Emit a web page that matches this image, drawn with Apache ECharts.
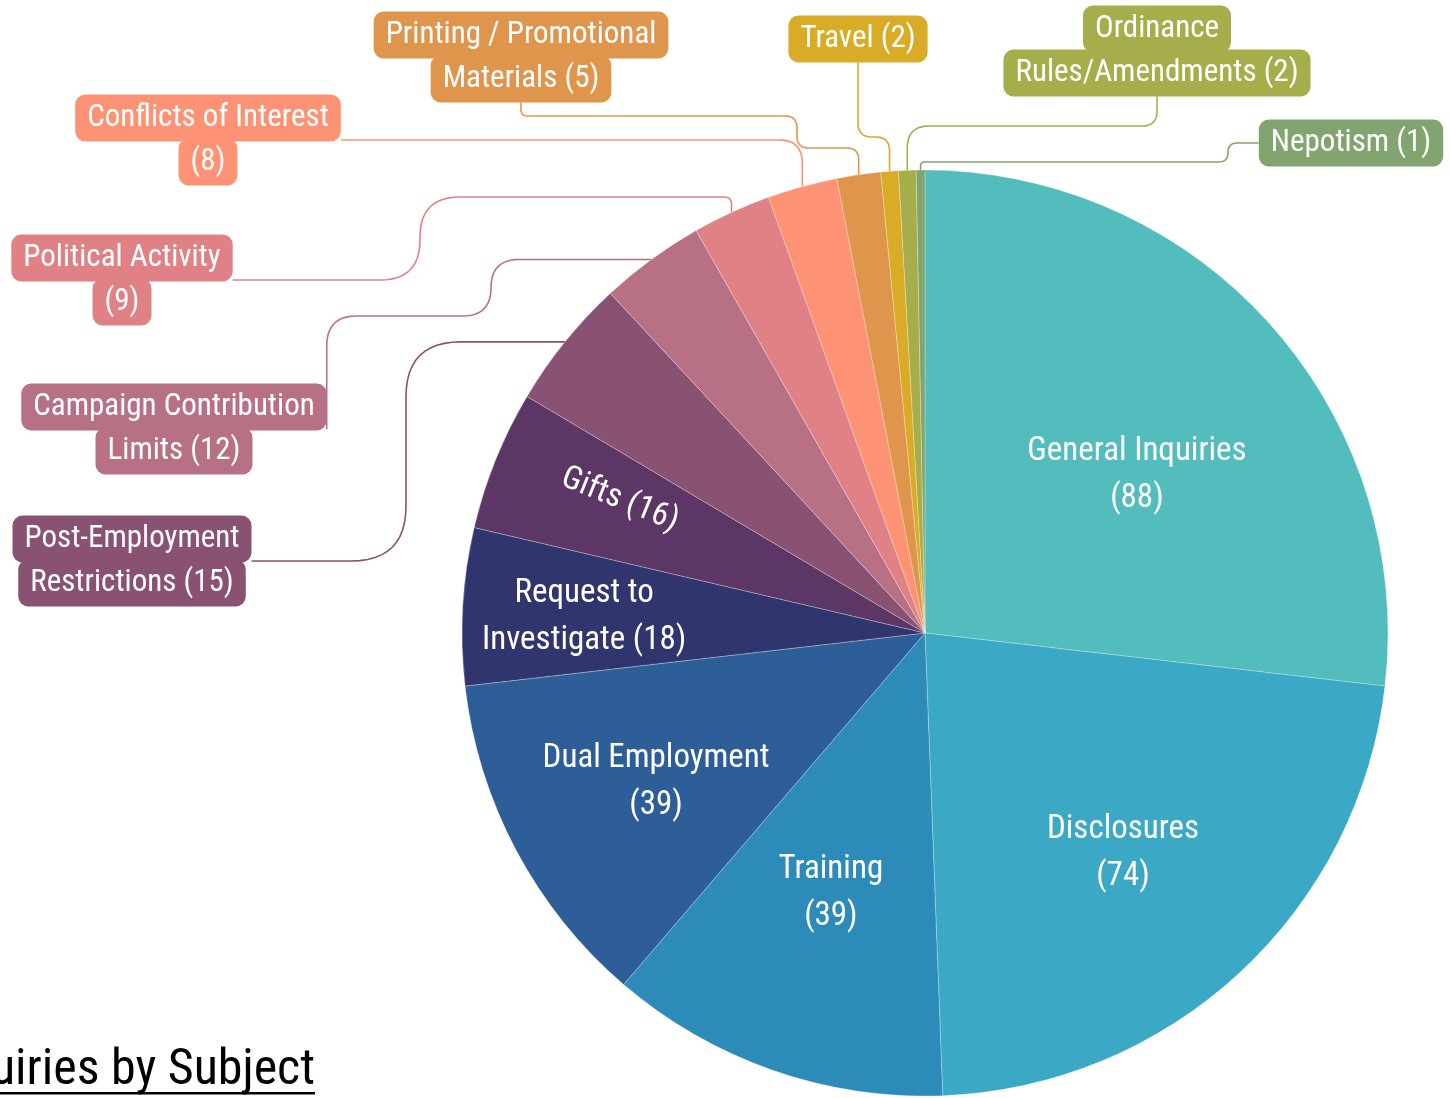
<!DOCTYPE html>
<html lang="en">
<head>
<meta charset="UTF-8">
<title>Inquiries by Subject</title>
<style>
  html, body { margin: 0; padding: 0; background: #fff; overflow: hidden; }
  #chart { width: 1450px; height: 1098px; }
</style>
<script src="https://cdn.jsdelivr.net/npm/echarts@6/dist/echarts.min.js"></script>
</head>
<body>
<div id="chart"></div>
<script>
// data
const subjects = ['General Inquiries', 'Disclosures', 'Training', 'Dual Employment', 'Request to Investigate',
  'Gifts', 'Post-Employment Restrictions', 'Campaign Contribution Limits', 'Political Activity',
  'Conflicts of Interest', 'Printing / Promotional Materials', 'Travel', 'Ordinance Rules/Amendments', 'Nepotism'];
const counts = [88, 74, 39, 39, 18, 16, 15, 12, 9, 8, 5, 2, 2, 1];
// how each label is wrapped (count is appended)
const labelText = ['General Inquiries\n', 'Disclosures\n', 'Training\n', 'Dual Employment\n', 'Request to\nInvestigate ',
  'Gifts ', 'Post-Employment\nRestrictions ', 'Campaign Contribution\nLimits ', 'Political Activity\n',
  'Conflicts of Interest\n', 'Printing / Promotional\nMaterials ', 'Travel ', 'Ordinance\nRules/Amendments ', 'Nepotism '];
const colors = ['#53bcbd', '#3ba8c5', '#2d8bba', '#2e5e97', '#31356d', '#5c3766', '#895172', '#b87184',
  '#e08185', '#fe9274', '#e0954d', '#d9ab27', '#a6ae4c', '#82a570'];

const FONT = "'Roboto Condensed', 'Liberation Sans Narrow', 'DejaVu Sans Condensed', Roboto, sans-serif";

// inside labels: [distance from centre as share of radius, angle shift in degrees]
const insidePos = {0: [0.571, -5], 1: [0.639, -0.8], 2: [0.597, -0.7], 3: [0.664, 1], 4: [0.737, 0.6], 5: [0.719, -1.6]};

// outside labels: centre of label box, where the line leaves it, route to the slice
const outside = {
  6: {x: 132, y: 561, from: 'right', r: 55, route: (p, a) => [p, [406, p[1]], [406, a[1]], a]},
  7: {x: 174, y: 429, from: 'right', r: 30, route: (p, a) => [p, [p[0], 316], [491, 316], [491, a[1]], a]},
  8: {x: 122, y: 280, from: 'right', r: 40, route: (p, a) => [p, [420, p[1]], [420, 197], [a[0], 197], a]},
  9: {x: 208, y: 140, from: 'right', r: 25, route: (p, a) => [p, [a[0], p[1]], a]},
  10: {x: 521, y: 57, from: 'bottom', r: 12, route: (p, a) => [p, [p[0], 116], [797, 116], [797, 148], [a[0], 148], a]},
  11: {x: 858, y: 39, from: 'bottom', r: 14, route: (p, a) => [p, [p[0], 137], [a[0], 137], a]},
  12: {x: 1157, y: 51, from: 'bottom', r: 22, route: (p, a) => [p, [p[0], 126], [a[0], 126], a]},
  13: {x: 1351, y: 143, from: 'left', r: 10, route: (p, a) => [p, [1228, p[1]], [1228, 162], [a[0], 162], a]}
};

const CX = 925, CY = 633, R = 463;

function roundPath(pts, r) {
  const out = [pts[0]];
  for (let i = 1; i < pts.length - 1; i++) {
    const p = pts[i], a = pts[i - 1], b = pts[i + 1];
    const la = Math.hypot(a[0] - p[0], a[1] - p[1]);
    const lb = Math.hypot(b[0] - p[0], b[1] - p[1]);
    if (!la || !lb) { out.push(p); continue; }
    const d = Math.min(r, la / 2, lb / 2);
    const s = [p[0] + (a[0] - p[0]) * d / la, p[1] + (a[1] - p[1]) * d / la];
    const e = [p[0] + (b[0] - p[0]) * d / lb, p[1] + (b[1] - p[1]) * d / lb];
    for (let k = 0; k <= 12; k++) {
      const t = k / 12;
      out.push([
        (1 - t) * (1 - t) * s[0] + 2 * (1 - t) * t * p[0] + t * t * e[0],
        (1 - t) * (1 - t) * s[1] + 2 * (1 - t) * t * p[1] + t * t * e[1]
      ]);
    }
  }
  out.push(pts[pts.length - 1]);
  return out;
}

const data = subjects.map((name, i) => {
  const text = labelText[i] + '(' + counts[i] + ')';
  const item = {name: name, value: counts[i], itemStyle: {color: colors[i]}};
  if (outside[i]) {
    item.label = {
      position: 'outside',
      formatter: text.split('\n').map(s => '{b|' + s + '}').join('\n'),
      rich: {
        b: {
          color: '#fff', fontFamily: FONT, fontSize: 31, lineHeight: 44,
          backgroundColor: colors[i], borderRadius: 10, padding: [8, 12]
        }
      }
    };
    item.labelLine = {show: true, smooth: false, lineStyle: {color: colors[i], width: 1.6}};
  } else {
    item.label = {
      position: 'inside',
      formatter: text,
      color: '#fff', fontFamily: FONT, fontSize: 33, lineHeight: 47,
      rotate: i === 5 ? 'radial' : 0
    };
    item.labelLine = {show: false};
  }
  return item;
});

const chart = echarts.init(document.getElementById('chart'));

chart.setOption({
  animation: false,
  backgroundColor: '#fff',
  graphic: [
    {
      type: 'text',
      style: {
        text: 'Inquiries by Subject', x: 315, y: 1071, align: 'right', verticalAlign: 'middle',
        fill: '#000', font: '50px ' + FONT
      }
    },
    {type: 'rect', shape: {x: 0, y: 1092, width: 315, height: 2.5}, style: {fill: '#000'}}
  ],
  series: [{
    type: 'pie',
    center: [CX, CY],
    radius: R,
    startAngle: 90,
    clockwise: true,
    avoidLabelOverlap: false,
    itemStyle: {borderColor: 'rgba(255,255,255,0.45)', borderWidth: 0.6},
    label: {overflow: 'none', textBorderWidth: 0},
    emphasis: {disabled: true},
    data: data,
    labelLayout: function (params) {
      const i = params.dataIndex;
      const lr = params.labelRect;
      const lx = lr.x + lr.width / 2, ly = lr.y + lr.height / 2;
      if (insidePos[i]) {
        const ang = Math.atan2(CY - ly, lx - CX) + insidePos[i][1] * Math.PI / 180;
        const rr = insidePos[i][0] * R;
        return {x: CX + rr * Math.cos(ang), y: CY - rr * Math.sin(ang)};
      }
      const o = outside[i];
      if (!o) return {};
      const w = lr.width, h = lr.height;
      let p;
      if (o.from === 'right') p = [o.x + w / 2, o.y];
      else if (o.from === 'left') p = [o.x - w / 2, o.y];
      else p = [o.x, o.y + h / 2];
      const a = params.labelLinePoints ? params.labelLinePoints[0] : [CX, CY];
      return {
        x: o.x, y: o.y, align: 'center', verticalAlign: 'middle',
        labelLinePoints: roundPath(o.route(p, a), o.r)
      };
    }
  }]
});
</script>
</body>
</html>
